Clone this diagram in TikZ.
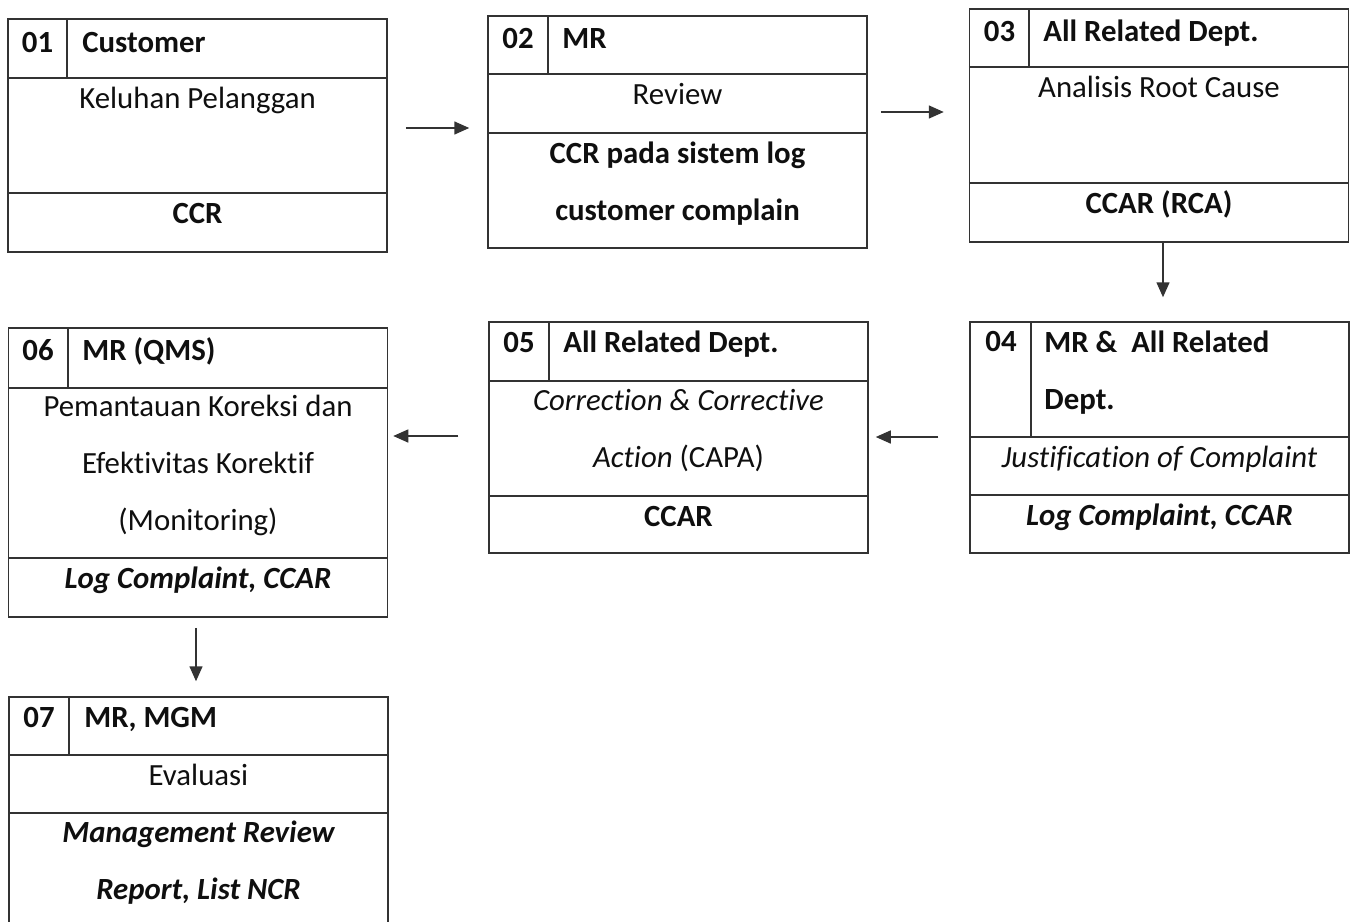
\documentclass[tikz,border=0pt]{standalone}
\usepackage{fontspec}
\setmainfont[Ligatures=NoCommon]{Carlito}
\usetikzlibrary{arrows.meta}

\definecolor{ink}{gray}{0.06}
\definecolor{rule}{gray}{0.2}
\newcommand\cellfont{\fontsize{15.4pt}{28.5pt}\selectfont}

\tikzset{
  stepbox/.style={draw=rule, line width=0.75pt, minimum width=189.5pt, inner sep=0pt},
  cellline/.style={draw=rule, line width=0.75pt},
  num/.style={anchor=base, inner sep=0pt, font=\cellfont\bfseries, text=ink},
  who/.style={anchor=base west, inner sep=0pt, align=left, font=\cellfont\bfseries, text=ink},
  act/.style={anchor=base, inner sep=0pt, align=center, font=\cellfont, text=ink},
  doc/.style={anchor=base, inner sep=0pt, align=center, font=\cellfont\bfseries, text=ink},
  flow/.style={draw=rule, line width=0.75pt, -{Triangle[length=7.5pt,width=6.5pt]}},
}

\begin{document}
\begin{tikzpicture}[x=0.5pt, y=-0.5pt]
  \useasboundingbox (0,0) rectangle (1354,921);

  % 01 customer
  \node[stepbox, minimum height=116.5pt] (b1) at (197.5,135.5) {};
  \draw[cellline] (b1.west |- 0,78) -- (b1.east |- 0,78)
    (b1.west |- 0,193) -- (b1.east |- 0,193) (67,19) -- (67,78);
  \node[num] (n1) at (37.5,52) {01};
  \node[who] (w1) at (82,52) {Customer};
  \node[act] (a1) at (197.5,108) {Keluhan Pelanggan};
  \node[doc] (d1) at (197.5,223) {CCR};

  % 02 review
  \node[stepbox, minimum height=116pt] (b2) at (677.5,132) {};
  \draw[cellline] (b2.west |- 0,74) -- (b2.east |- 0,74)
    (b2.west |- 0,133) -- (b2.east |- 0,133) (548,16) -- (548,74);
  \node[num] (n2) at (518,48) {02};
  \node[who] (w2) at (562,48) {MR};
  \node[act] (a2) at (677.5,104) {Review};
  % base of a stacked text is its last line
  \node[doc] (d2) at (677.5,220) {CCR pada sistem log\\customer complain};

  % 03 root cause
  \node[stepbox, minimum height=116.5pt] (b3) at (1159,125.5) {};
  \draw[cellline] (b3.west |- 0,67) -- (b3.east |- 0,67)
    (b3.west |- 0,183) -- (b3.east |- 0,183) (1029,9) -- (1029,67);
  \node[num] (n3) at (999.5,41) {03};
  \node[who] (w3) at (1043,41) {All Related Dept.};
  \node[act] (a3) at (1159,97) {Analisis Root Cause};
  \node[doc] (d3) at (1159,213) {CCAR (RCA)};

  % 04 justification
  \node[stepbox, minimum height=115.5pt] (b4) at (1159.5,437.5) {};
  \draw[cellline] (b4.west |- 0,437) -- (b4.east |- 0,437)
    (b4.west |- 0,495) -- (b4.east |- 0,495) (1031,322) -- (1031,437);
  \node[num] (n4) at (1001,351) {04};
  \node[who] (w4) at (1044,409) {MR \&\ \ All Related\\Dept.};
  \node[act] (a4) at (1159.5,467) {\itshape Justification of Complaint};
  \node[doc] (d4) at (1159.5,525) {\itshape Log Complaint, CCAR};

  % 05 capa
  \node[stepbox, minimum height=115.5pt] (b5) at (678.5,437.5) {};
  \draw[cellline] (b5.west |- 0,381) -- (b5.east |- 0,381)
    (b5.west |- 0,496) -- (b5.east |- 0,496) (549,322) -- (549,381);
  \node[num] (n5) at (519,352) {05};
  \node[who] (w5) at (563,352) {All Related Dept.};
  \node[act] (a5) at (678.5,467) {\textit{Correction \& Corrective}\\\textit{Action} (CAPA)};
  \node[doc] (d5) at (678.5,526) {CCAR};

  % 06 monitoring
  \node[stepbox, minimum height=144.5pt] (b6) at (198,472.5) {};
  \draw[cellline] (b6.west |- 0,388) -- (b6.east |- 0,388)
    (b6.west |- 0,558) -- (b6.east |- 0,558) (68,328) -- (68,388);
  \node[num] (n6) at (38,360) {06};
  \node[who] (w6) at (82,360) {MR (QMS)};
  \node[act] (a6) at (198,530) {Pemantauan Koreksi dan\\Efektivitas Korektif\\(Monitoring)};
  \node[doc] (d6) at (198,588) {\itshape Log Complaint, CCAR};

  % 07 evaluasi
  \node[stepbox, minimum height=131.5pt] (b7) at (198.5,828.5) {};
  \draw[cellline] (b7.west |- 0,755) -- (b7.east |- 0,755)
    (b7.west |- 0,813) -- (b7.east |- 0,813) (69,697) -- (69,755);
  \node[num] (n7) at (39,727) {07};
  \node[who] (w7) at (84,727) {MR, MGM};
  \node[act] (a7) at (198.5,785) {Evaluasi};
  \node[doc] (d7) at (198.5,899) {\itshape Management Review\\\itshape Report, List NCR};

  % flow between steps
  \draw[flow, shorten <=9pt, shorten >=9pt] (b1.east |- 0,128) -- (b2.west |- 0,128);
  \draw[flow, shorten <=6.5pt, shorten >=12.5pt] (b2.east |- 0,112) -- (b3.west |- 0,112);
  \draw[flow, shorten >=12pt] (b3.south -| 1163,0) -- (b4.north -| 1163,0);
  \draw[flow, shorten <=15.5pt, shorten >=3.5pt] (b4.west |- 0,437) -- (b5.east |- 0,437);
  \draw[flow, shorten <=15pt, shorten >=2.5pt] (b5.west |- 0,436) -- (b6.east |- 0,436);
  \draw[flow, shorten <=5pt, shorten >=7.5pt] (b6.south -| 196,0) -- (b7.north -| 196,0);
\end{tikzpicture}
\end{document}
